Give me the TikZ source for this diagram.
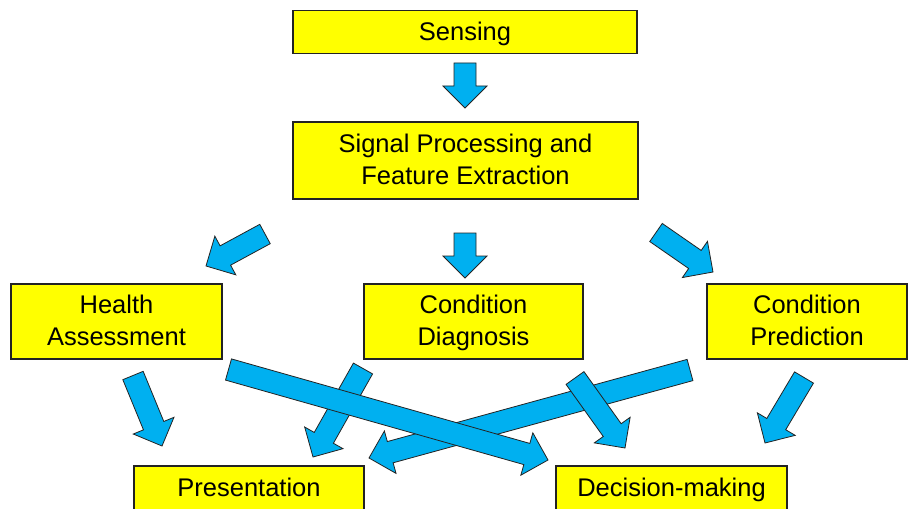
\documentclass[tikz,border=0pt]{standalone}
\usepackage{fontspec}
\setmainfont{Liberation Sans}
\usetikzlibrary{calc}

\definecolor{boxyellow}{RGB}{255,255,0}
\definecolor{flowblue}{RGB}{0,176,240}
\definecolor{edgedark}{RGB}{35,35,35}

% Invisible line strut giving every text line the same height and depth
\newcommand{\ls}{\rule[-7.8pt]{0pt}{32pt}}

% Block arrow from a tail coordinate to a tip coordinate
\newcommand{\blockarrow}[2]{%
  \path ($(#2)!22pt!(#1)$) coordinate (headbase);
  \draw[flow] ($(#1)!11pt!90:(#2)$) -- ($(headbase)!11pt!90:(#2)$)
    -- ($(headbase)!22pt!90:(#2)$) -- (#2)
    -- ($(headbase)!22pt!-90:(#2)$) -- ($(headbase)!11pt!-90:(#2)$)
    -- ($(#1)!11pt!-90:(#2)$) -- cycle;
}

\tikzset{
  stagebox/.style={draw=edgedark, line width=1.3pt, fill=boxyellow,
    inner sep=0pt, align=center, text=black,
    font=\fontsize{25.5}{32}\selectfont},
  flow/.style={draw=edgedark, line width=0.8pt, fill=flowblue, line join=miter}
}

\begin{document}
\begin{tikzpicture}[x=1pt, y=-1pt]
  \clip (0,0) rectangle (909,508);
  \fill[white] (0,0) rectangle (909,508);

  % stages
  \node[stagebox, minimum width=344pt, minimum height=43pt] (sense) at (465,32) {\ls Sensing};
  \node[stagebox, minimum width=345pt, minimum height=77pt] (sigproc) at (465.5,160.5)
    {\ls Signal Processing and\\\ls Feature Extraction};
  \node[stagebox, minimum width=211pt, minimum height=75pt] (health) at (116.5,321.5)
    {\ls Health\\\ls Assessment};
  \node[stagebox, minimum width=219pt, minimum height=75pt] (diag) at (473.5,321.5)
    {\ls Condition\\\ls Diagnosis};
  \node[stagebox, minimum width=200pt, minimum height=75pt] (pred) at (807,321.5)
    {\ls Condition\\\ls Prediction};
  \node[stagebox, minimum width=230pt, minimum height=44pt] (pres) at (249,488) {\ls Presentation};
  \node[stagebox, minimum width=231pt, minimum height=44pt] (dec) at (671.5,488) {\ls Decision-making};

  % arrow ends
  \coordinate (a1t) at (465,63);     \coordinate (a1h) at (465,108);
  \coordinate (a2t) at (465,233);    \coordinate (a2h) at (465,278);
  \coordinate (a3t) at (265,234);    \coordinate (a3h) at (206,266);
  \coordinate (a4t) at (656,232.5);  \coordinate (a4h) at (713,272);
  \coordinate (a5t) at (133,375.5);  \coordinate (a5h) at (162,446);
  \coordinate (a6t) at (363,368.5);  \coordinate (a6h) at (313,457);
  \coordinate (a7t) at (228.5,369.5); \coordinate (a7h) at (548,460);
  \coordinate (a8t) at (690,370);    \coordinate (a8h) at (369,458);
  \coordinate (a9t) at (575,378);    \coordinate (a9h) at (625,448);
  \coordinate (a10t) at (804,377.5); \coordinate (a10h) at (765,443);

  % flow arrows
  \blockarrow{a1t}{a1h}
  \blockarrow{a2t}{a2h}
  \blockarrow{a3t}{a3h}
  \blockarrow{a4t}{a4h}
  \blockarrow{a5t}{a5h}
  \blockarrow{a8t}{a8h}
  \blockarrow{a9t}{a9h}
  \blockarrow{a6t}{a6h}
  \blockarrow{a10t}{a10h}
  \blockarrow{a7t}{a7h}
\end{tikzpicture}
\end{document}
